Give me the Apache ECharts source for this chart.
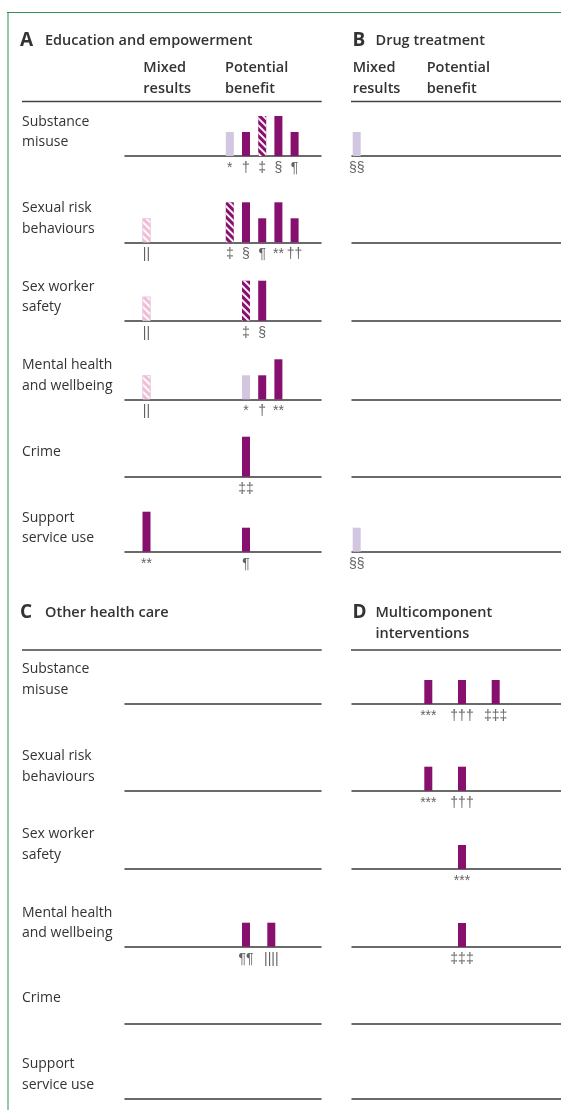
<!DOCTYPE html>
<html>
<head>
<meta charset="utf-8">
<script src="https://cdn.jsdelivr.net/npm/echarts@6/dist/echarts.min.js"></script>
<style>html,body{margin:0;padding:0;background:#fff}#c{width:561px;height:1110px}</style>
</head>
<body>
<div id="c"></div>
<script>
// ---------- data ----------
const rowLabels = [
  ['Substance', 'misuse'],
  ['Sexual risk', 'behaviours'],
  ['Sex worker', 'safety'],
  ['Mental health', 'and wellbeing'],
  ['Crime'],
  ['Support', 'service use']
];
const panelLetters = ['A', 'B', 'C', 'D'];
const panelTitles = [['Education and empowerment'], ['Drug treatment'], ['Other health care'], ['Multicomponent', 'interventions']];
const columnHeaders = [['Mixed', 'results'], ['Potential', 'benefit']];

// bars: [row, column ('mixed'|'benefit'), slot, strength (3 = lower, 5 = higher), evidence type, footnote]
// evidence type: 'L' light, 'S' solid, 'H' hatched, 'P' hatched (mixed)
const barsA = [
  [0, 'benefit', 0, 3, 'L', '*'],
  [0, 'benefit', 1, 3, 'S', '†'],
  [0, 'benefit', 2, 5, 'H', '‡'],
  [0, 'benefit', 3, 5, 'S', '§'],
  [0, 'benefit', 4, 3, 'S', '¶'],
  [1, 'mixed', 0, 3, 'P', '||'],
  [1, 'benefit', 0, 5, 'H', '‡'],
  [1, 'benefit', 1, 5, 'S', '§'],
  [1, 'benefit', 2, 3, 'S', '¶'],
  [1, 'benefit', 3, 5, 'S', '**'],
  [1, 'benefit', 4, 3, 'S', '††'],
  [2, 'mixed', 0, 3, 'P', '||'],
  [2, 'benefit', 1, 5, 'H', '‡'],
  [2, 'benefit', 2, 5, 'S', '§'],
  [3, 'mixed', 0, 3, 'P', '||'],
  [3, 'benefit', 1, 3, 'L', '*'],
  [3, 'benefit', 2, 3, 'S', '†'],
  [3, 'benefit', 3, 5, 'S', '**'],
  [4, 'benefit', 1, 5, 'S', '‡‡'],
  [5, 'mixed', 0, 5, 'S', '**'],
  [5, 'benefit', 1, 3, 'S', '¶']
];
const barsB = [
  [0, 'mixed', 0, 3, 'L', '§§'],
  [5, 'mixed', 0, 3, 'L', '§§']
];
const barsC = [
  [3, 'benefit', 0, 3, 'S', '¶¶'],
  [3, 'benefit', 1, 3, 'S', '||||']
];
const barsD = [
  [0, 'benefit', 0, 3, 'S', '***'],
  [0, 'benefit', 1, 3, 'S', '†††'],
  [0, 'benefit', 2, 3, 'S', '‡‡‡'],
  [1, 'benefit', 0, 3, 'S', '***'],
  [1, 'benefit', 1, 3, 'S', '†††'],
  [2, 'benefit', 1, 3, 'S', '***'],
  [3, 'benefit', 1, 3, 'S', '‡‡‡']
];
const panelBars = [barsA, barsB, barsC, barsD];

// ---------- layout & style ----------
const FONT = "'Open Sans', 'Noto Sans', sans-serif";
const SYMFONT = "'Liberation Sans', Arial, sans-serif";
const TXT = '#333333';
const PURPLE = '#870f6d';
const LAVENDER = '#d3c6e1';
const PINK = '#f3bcd3';
const GREEN = '#2f8f55';

const layouts = [
  { left: 125, width: 196, baselines: [156, 242.3, 320.7, 399.3, 476.7, 551.7], mixedX: 21.5, base: 104.8, step: 16.2, headerY: 101.5, titleY: 41 },
  { left: 352, width: 209, baselines: [156, 242.3, 320.7, 399.3, 476.7, 551.7], mixedX: 4.7, base: 75, step: 16.2, headerY: 101.5, titleY: 41 },
  { left: 125, width: 196, baselines: [703.5, 790.5, 868.5, 946.7, 1023.5, 1098.3], mixedX: 21.5, base: 121, step: 25.3, headerY: 650, titleY: 613 },
  { left: 352, width: 209, baselines: [704, 790.7, 869, 947, 1023.5, 1098.3], mixedX: 4.7, base: 76.3, step: 33.7, headerY: 650, titleY: 612.7 }
];
const GRID_H = 40;

function styleFor(type) {
  if (type === 'L') return { color: LAVENDER };
  if (type === 'S') return { color: PURPLE };
  const hatch = { symbol: 'rect', symbolSize: 1, color: 'rgba(255,255,255,0.95)', dashArrayX: [1, 0], dashArrayY: [1.5, 2.3], rotation: Math.PI / 4 };
  if (type === 'H') return { color: PURPLE, decal: hatch };
  return { color: PINK, decal: hatch, borderColor: '#e2c6e8', borderWidth: 0.6 };
}

const grids = [], xAxes = [], yAxes = [], series = [], graphics = [];

function text(str, x, y, size, weight) {
  graphics.push({
    type: 'text', x: x, y: y, silent: true,
    style: { text: str, fill: TXT, font: (weight || 'normal') + ' ' + size + 'px ' + FONT, textAlign: 'left', textVerticalAlign: 'middle', verticalAlign: 'middle' }
  });
}
function hline(x1, x2, y, color, w) {
  graphics.push({ type: 'line', silent: true, shape: { x1: x1, y1: y, x2: x2, y2: y }, style: { stroke: color, lineWidth: w } });
}

layouts.forEach((L, p) => {
  const isLeft = (p === 0 || p === 2);
  // titles
  const titleX = isLeft ? 20 : 352.5;
  text(panelLetters[p], titleX, L.titleY, 19, 'bold');
  panelTitles[p].forEach((t, i) => text(t, titleX + (isLeft ? 25 : 23), L.titleY + i * 21, 14.5, '600'));
  // column headers (top panels)
  if (p < 2) {
    const hx = isLeft ? [143.3, 225] : [352.7, 426.7];
    columnHeaders.forEach((h, c) => h.forEach((t, i) => text(t, hx[c], 68 + i * 21, 14.5, '600')));
  }
  hline(isLeft ? 22 : 351, isLeft ? 321.7 : 561, L.headerY, '#444', 1.5);
  // row labels
  if (isLeft) {
    L.baselines.forEach((b, r) => {
      const lines = rowLabels[r];
      if (lines.length === 1) text(lines[0], 22, b - 25, 14);
      else { text(lines[0], 22, b - 34, 14); text(lines[1], 22, b - 13.5, 14); }
    });
  }
  // rows
  L.baselines.forEach((b, r) => {
    const idx = grids.length;
    grids.push({ left: L.left, top: b - GRID_H, width: L.width, height: GRID_H, containLabel: false });
    xAxes.push({
      gridIndex: idx, type: 'value', min: 0, max: L.width,
      axisLine: { show: true, lineStyle: { color: '#3a3a3a', width: 1.5 } },
      axisTick: { show: false }, axisLabel: { show: false }, splitLine: { show: false }
    });
    yAxes.push({ gridIndex: idx, type: 'value', min: 0, max: 5, show: false, splitLine: { show: false } });
    const rowBars = panelBars[p].filter(d => d[0] === r);
    const pos = d => d[1] === 'mixed' ? L.mixedX : L.base + d[2] * L.step;
    series.push({
      type: 'bar', xAxisIndex: idx, yAxisIndex: idx, barWidth: 8, silent: true,
      data: rowBars.map(d => ({ value: [pos(d), d[3]], itemStyle: styleFor(d[4]) }))
    });
    series.push({
      type: 'scatter', xAxisIndex: idx, yAxisIndex: idx, symbolSize: 0, silent: true, clip: false,
      data: rowBars.map(d => [pos(d), 0, d[5]]),
      label: { show: true, position: 'bottom', distance: 5, color: '#3a3a3a', fontSize: 14, fontFamily: SYMFONT, formatter: q => q.data[2] }
    });
  });
});

// green frame
graphics.push({ type: 'line', silent: true, shape: { x1: 7, y1: 12.5, x2: 561, y2: 12.5 }, style: { stroke: GREEN, lineWidth: 1 } });
graphics.push({ type: 'line', silent: true, shape: { x1: 8, y1: 12, x2: 8, y2: 1110 }, style: { stroke: GREEN, lineWidth: 1 } });

const chart = echarts.init(document.getElementById('c'), null, { renderer: 'canvas' });
chart.setOption({
  animation: false,
  backgroundColor: '#fff',
  grid: grids, xAxis: xAxes, yAxis: yAxes, series: series,
  graphic: { elements: graphics }
});
</script>
</body>
</html>
